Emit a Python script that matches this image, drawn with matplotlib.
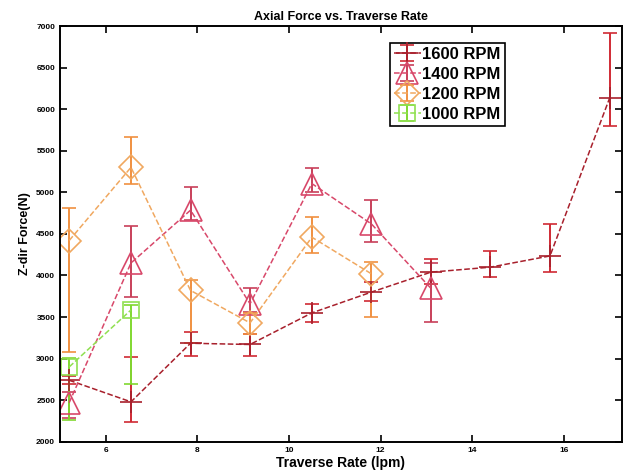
"""
Axial force vs. traverse rate for four spindle speeds
"""

import numpy as np
import matplotlib
matplotlib.use('Agg')
import matplotlib.pyplot as plt

plt.rcParams['font.family'] = ['Liberation Sans', 'DejaVu Sans']

# ===== Data =====
x_1600 = [5.2, 6.55, 7.85, 9.15, 10.5, 11.8, 13.1, 14.4, 15.7, 17.0]
y_1600 = [2740, 2480, 3185, 3170, 3550, 3800, 4040, 4100, 4235, 6130]
lo_1600 = [2700, 2240, 3030, 3035, 3435, 3690, 3900, 3980, 4045, 5800]
hi_1600 = [2790, 3020, 3320, 3300, 3660, 3920, 4195, 4300, 4625, 6910]

x_1400 = [5.2, 6.55, 7.85, 9.15, 10.5, 11.8, 13.1]
y_1400 = [2470, 4150, 4785, 3660, 5105, 4620, 3845]
lo_1400 = [2280, 3740, 4665, 3560, 5005, 4400, 3440]
hi_1400 = [2600, 4590, 5060, 3850, 5295, 4905, 4150]

x_1200 = [5.2, 6.55, 7.85, 9.15, 10.5, 11.8]
y_1200 = [4420, 5300, 3820, 3430, 4460, 4020]
lo_1200 = [3080, 5105, 3190, 3300, 4275, 3505]
hi_1200 = [4810, 5670, 3950, 3545, 4705, 4165]

x_1000 = [5.2, 6.55]
y_1000 = [2900, 3585]
lo_1000 = [2260, 2700]
hi_1000 = [3005, 3650]

series = [
    ('1600 RPM', x_1600, y_1600, lo_1600, hi_1600, '+', '#a8202c', '#d02a34', 16),
    ('1400 RPM', x_1400, y_1400, lo_1400, hi_1400, '^', '#d8486a', '#c8405a', 16),
    ('1200 RPM', x_1200, y_1200, lo_1200, hi_1200, 'D', '#f0a860', '#f09040', 12),
    ('1000 RPM', x_1000, y_1000, lo_1000, hi_1000, 's', '#90e050', '#80d830', 12),
]


def main():
    fig = plt.figure(figsize=(6.25, 4.73), dpi=100)
    ax = fig.add_axes([0.096, 0.066, 0.899, 0.879])

    handles = []
    for label, xs, ys, lo, hi, mk, col, ecol, ms in series:
        ys = np.array(ys)
        yerr = [ys - np.array(lo), np.array(hi) - ys]
        h = ax.errorbar(xs, ys, yerr=yerr, fmt=mk, linestyle='--',
                        color=col, ecolor=ecol, elinewidth=1.4,
                        capsize=5, capthick=1.4, markersize=ms,
                        markerfacecolor='none', markeredgecolor=col,
                        markeredgewidth=1.2, linewidth=1.1, label=label)
        handles.append(h)

    ax.set_xlim(5.0, 17.27)
    ax.set_ylim(2000, 7000)
    ax.set_xticks([6, 8, 10, 12, 14, 16])
    ax.set_yticks(np.arange(2000, 7001, 500))
    ax.tick_params(direction='in', top=True, right=True, length=5,
                   width=1.2, labelsize=6)
    for lbl in ax.get_xticklabels() + ax.get_yticklabels():
        lbl.set_fontweight('bold')
    for sp in ax.spines.values():
        sp.set_linewidth(1.4)

    ax.set_title('Axial Force vs. Traverse Rate', fontsize=9,
                 fontweight='bold', pad=4)
    ax.set_xlabel('Traverse Rate (lpm)', fontsize=10, fontweight='bold',
                  labelpad=2)
    ax.set_ylabel('Z-dir Force(N)', fontsize=9, fontweight='bold',
                  labelpad=4)

    leg = ax.legend(handles=handles, loc='upper left',
                    bbox_to_anchor=(0.587, 0.96),
                    prop={'weight': 'bold', 'size': 12},
                    handlelength=1.6, handletextpad=0.1,
                    borderpad=0.25, labelspacing=0.3, fancybox=False,
                    framealpha=1, borderaxespad=0)
    leg.get_frame().set_edgecolor('black')
    leg.get_frame().set_linewidth(1.2)

    fig.savefig('out.png', dpi=100)
    plt.close(fig)


if __name__ == "__main__":
    main()
